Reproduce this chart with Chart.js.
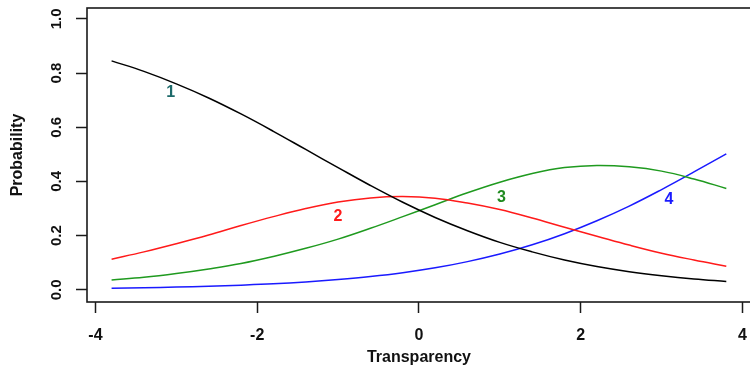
<!DOCTYPE html>
<html>
<head>
<meta charset="utf-8">
<script src="https://cdn.jsdelivr.net/npm/chart.js@4.4.1/dist/chart.umd.min.js"></script>
<style>
  html, body { margin: 0; padding: 0; background: #ffffff; overflow: hidden; }
  #wrap { width: 760px; height: 375px; }
</style>
</head>
<body>
<div id="wrap"><canvas id="c" width="760" height="375"></canvas></div>
<script>
// Predicted probability of each response category against transparency
const transparency = [-3.8, -3.4, -3.0, -2.6, -2.2, -1.8, -1.4, -1.0, -0.6, -0.2,
                       0.2,  0.6,  1.0,  1.4,  1.8,  2.2,  2.6,  3.0,  3.4,  3.8];
const cat1 = [0.845, 0.806, 0.760, 0.708, 0.649, 0.585, 0.518, 0.451, 0.385, 0.323,
              0.267, 0.218, 0.175, 0.140, 0.110, 0.086, 0.067, 0.052, 0.040, 0.031];
const cat2 = [0.113, 0.140, 0.170, 0.202, 0.237, 0.270, 0.300, 0.324, 0.339, 0.344,
              0.338, 0.320, 0.296, 0.265, 0.231, 0.198, 0.165, 0.135, 0.110, 0.087];
const cat3 = [0.036, 0.046, 0.060, 0.077, 0.097, 0.123, 0.153, 0.187, 0.227, 0.270,
              0.314, 0.358, 0.397, 0.429, 0.451, 0.459, 0.454, 0.438, 0.409, 0.374];
const cat4 = [0.006, 0.008, 0.010, 0.013, 0.017, 0.022, 0.029, 0.038, 0.049, 0.063,
              0.081, 0.104, 0.132, 0.166, 0.207, 0.255, 0.309, 0.370, 0.435, 0.502];

// Category names written next to their curves
const curveNames = ['1', '2', '3', '4'];
const nameX = [-3.07, -1.0, 1.02, 3.09];
const nameY = [0.728, 0.269, 0.342, 0.332];

const xTicks = [-4, -2, 0, 2, 4];
const yTicks = [0.0, 0.2, 0.4, 0.6, 0.8, 1.0];

const lineColors = ['#000000', '#ff1a1a', '#1f9a1f', '#1a1aff'];
const nameColors = ['#1d6a6a', '#ff1a1a', '#1f8a1f', '#1a1aff'];

const toPoints = ys => transparency.map((x, i) => ({ x: x, y: ys[i] }));

const series = [cat1, cat2, cat3, cat4];

const boxPlugin = {
  id: 'rbox',
  afterDraw(chart) {
    const { ctx, chartArea: a, scales } = chart;
    ctx.save();
    // plot frame
    ctx.strokeStyle = '#1a1a1a';
    ctx.lineWidth = 1.6;
    ctx.strokeRect(a.left, a.top, a.right - a.left, a.bottom - a.top);

    // rotated y tick labels
    ctx.fillStyle = '#111';
    ctx.font = 'bold 15px "Liberation Sans", Arial, sans-serif';
    ctx.textAlign = 'center';
    ctx.textBaseline = 'middle';
    yTicks.forEach(v => {
      const py = scales.y.getPixelForValue(v);
      ctx.save();
      ctx.translate(57, py);
      ctx.rotate(-Math.PI / 2);
      ctx.fillText(v.toFixed(1), 0, 0);
      ctx.restore();
    });

    // curve names
    ctx.font = 'bold 16px "Liberation Sans", Arial, sans-serif';
    curveNames.forEach((t, i) => {
      ctx.fillStyle = nameColors[i];
      ctx.fillText(t, scales.x.getPixelForValue(nameX[i]), scales.y.getPixelForValue(nameY[i]));
    });
    ctx.restore();
  }
};

new Chart(document.getElementById('c'), {
  type: 'scatter',
  data: {
    datasets: series.map((ys, i) => ({
      label: curveNames[i],
      data: toPoints(ys),
      showLine: true,
      borderColor: lineColors[i],
      backgroundColor: lineColors[i],
      borderWidth: 1.5,
      pointRadius: 0,
      tension: 0.4,
      fill: false
    }))
  },
  options: {
    responsive: false,
    animation: false,
    devicePixelRatio: 1,
    layout: { padding: { top: 8, right: 5.4, left: 0, bottom: 0 } },
    plugins: { legend: { display: false }, tooltip: { enabled: false } },
    scales: {
      x: {
        type: 'linear',
        min: -4.104,
        max: 4.104,
        afterBuildTicks: s => { s.ticks = xTicks.map(v => ({ value: v })); },
        afterFit: s => { s.height = 73; },
        border: { display: false },
        grid: { drawOnChartArea: false, drawTicks: true, tickLength: 11, tickColor: '#1a1a1a', tickWidth: 1.5 },
        ticks: {
          color: '#111',
          padding: 13,
          maxRotation: 0,
          font: { family: '"Liberation Sans", Arial, sans-serif', size: 16, weight: 'bold' },
          callback: v => String(v)
        },
        title: {
          display: true,
          text: 'Transparency',
          color: '#111',
          padding: { top: 0, bottom: 8 },
          font: { family: '"Liberation Sans", Arial, sans-serif', size: 16, weight: 'bold' }
        }
      },
      y: {
        type: 'linear',
        min: -0.045,
        max: 1.04,
        afterBuildTicks: s => { s.ticks = yTicks.map(v => ({ value: v })); },
        afterFit: s => { s.width = 87; },
        border: { display: false },
        grid: { drawOnChartArea: false, drawTicks: true, tickLength: 11, tickColor: '#1a1a1a', tickWidth: 1.5 },
        ticks: { display: false },
        title: {
          display: true,
          text: 'Probability',
          color: '#111',
          padding: { top: 8, bottom: 0 },
          font: { family: '"Liberation Sans", Arial, sans-serif', size: 16, weight: 'bold' }
        }
      }
    }
  },
  plugins: [boxPlugin]
});
</script>
</body>
</html>
